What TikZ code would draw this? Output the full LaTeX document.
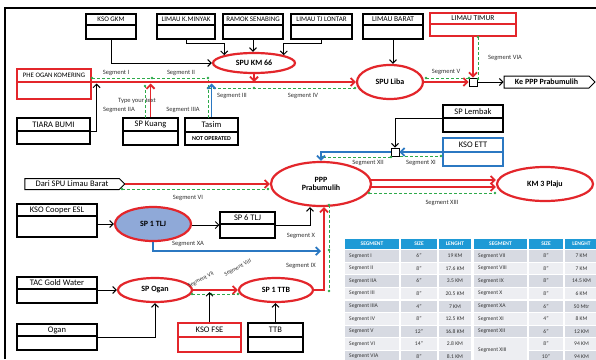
\documentclass[tikz,border=0pt]{standalone}
\usepackage{fontspec}
\setmainfont{Carlito}
\usetikzlibrary{arrows.meta,shapes.geometric,shapes.symbols,calc}
\definecolor{cred}{HTML}{E3262B}
\definecolor{cgreen}{HTML}{2EAA4A}
\definecolor{cblue}{HTML}{2B78C2}
\definecolor{cfill}{HTML}{8FA9D8}
\definecolor{thead}{HTML}{1E9AD6}
\definecolor{trowa}{HTML}{D7DAE2}
\definecolor{trowb}{HTML}{EDEEF2}
\newcommand{\fsz}[1]{\fontsize{#1}{#1}\selectfont}
% entity box: [style]{name}{x1}{y1}{x2}{y2}{ydiv}{header}{body}
\newcommand{\EB}[9][]{%
  \node[ebox,#1,minimum width={(#5)-(#3)},minimum height={(#6)-(#4)}] (#2) at ({((#3)+(#5))/2},{((#4)+(#6))/2}) {};
  \draw[ebox,#1] ({#3},{#7}) -- ({#5},{#7});
  \node[blbl] at ({((#3)+(#5))/2},{((#4)+(#7))/2}) {#8};
  \node[blbl] at ({((#3)+(#5))/2},{((#7)+(#6))/2}) {#9};
}
\begin{document}
\begin{tikzpicture}[x=1pt,y=-1pt,
  ebox/.style={draw=black,line width=1.1pt,rectangle,inner sep=0pt},
  rbox/.style={draw=cred},
  bbox/.style={draw=cblue},
  blbl/.style={font=\fsz{8.5},inner sep=0pt},
  ell/.style={ellipse,draw=cred,line width=2.2pt,inner sep=0pt,align=center,font=\bfseries\fsz{8}},
  sig/.style={signal,signal to=east,draw=black,line width=1pt,inner sep=0pt,font=\fsz{8.5}},
  jsq/.style={rectangle,draw=black,line width=0.8pt,fill=white,minimum size=8pt,inner sep=0pt},
  karr/.style={draw=black,line width=1pt,-{Straight Barb[length=3.5pt,width=7pt]}},
  rline/.style={draw=cred,line width=1.8pt},
  rarr/.style={rline,-{Straight Barb[length=4pt,width=8pt]}},
  barr/.style={draw=cblue,line width=1.8pt,-{Straight Barb[length=4pt,width=8pt]}},
  gdash/.style={draw=cgreen,line width=0.9pt,dash pattern=on 3pt off 2pt},
  gdot/.style={circle,fill=cgreen,inner sep=0pt,minimum size=2.8pt},
  seg/.style={font=\fsz{6.5},inner sep=0pt,text=black!80},
  thd/.style={font=\bfseries\fsz{5.5},text=white,inner sep=0pt},
  tcl/.style={font=\fsz{5.6},text=black!80,inner sep=0pt}]
\useasboundingbox (0,0) rectangle (596,359);
\fill[white] (0,0) rectangle (596,359);
\draw[line width=2pt] (5,359) -- (5,8) -- (596,8);

% ---------- boxes ----------
\EB{gkm}{86}{14}{136}{39}{25}{\fsz{7}KSO GKM}{}
\EB{kmy}{157}{14}{215}{39}{25}{\fsz{7}LIMAU K.MINYAK}{}
\EB{ramok}{223}{14}{283}{39}{25}{\fsz{7}RAMOK SENABING}{}
\EB{lontar}{291}{14}{352}{39}{25}{\fsz{7}LIMAU TJ LONTAR}{}
\EB{lbarat}{363}{14}{423}{39}{25}{\fsz{7.5}LIMAU BARAT}{}
\EB[rbox]{ltimur}{430}{13}{516}{36}{24}{\fsz{7.5}LIMAU TIMUR}{}
\EB[rbox]{phe}{17}{69}{91}{99}{82}{\fsz{6.8}PHE OGAN KOMERING}{}
\EB{tiara}{17}{118}{90}{144}{131}{TIARA BUMI}{}
\EB{kuang}{123}{118}{178}{145}{131}{SP Kuang}{}
\EB{tasim}{185}{118}{238}{145}{132}{Tasim}{\bfseries\fsz{6}NOT OPERATED}
\EB{lembak}{443}{105}{503}{132}{118}{SP Lembak}{}
\EB[bbox]{ett}{443}{138}{503}{166}{152}{KSO ETT}{}
\EB{cooper}{17}{204}{97}{237}{216}{KSO Cooper ESL}{}
\EB{sixtlj}{220}{212}{275}{238}{224}{SP 6 TLJ}{}
\EB{tac}{17}{277}{97}{303}{289}{TAC Gold Water}{}
\EB{ogan}{17}{324}{97}{350}{336}{Ogan}{}
\EB[rbox]{fse}{178}{323}{241}{352}{337}{KSO FSE}{}
\EB{ttb}{248}{323}{303}{352}{337}{TTB}{}

% ---------- ellipses ----------
\node[ell,minimum width=82,minimum height=20] (km66) at (254,63) {SPU KM 66};
\node[ell,minimum width=66,minimum height=34] (liba) at (390,82) {SPU Liba};
\node[ell,minimum width=100,minimum height=44] (ppp) at (321,184) {PPP\\Prabumulih};
\node[ell,minimum width=96,minimum height=34] (km3) at (545,184) {KM 3 Plaju};
\node[ell,fill=cfill,minimum width=76,minimum height=34] (onetlj) at (153,224) {SP 1 TLJ};
\node[ell,minimum width=74,minimum height=24] (spogan) at (155,290) {SP Ogan};
\node[ell,minimum width=74,minimum height=24] (onettb) at (276,290) {SP 1 TTB};

\node[jsq] (j1) at (473,82) {};
\node[jsq] (j2) at (395,152) {};
\node[sig,minimum width=91,minimum height=12] (ke) at (546.5,82) {\bfseries\fsz{8}Ke PPP Prabumulih};
\node[sig,minimum width=100,minimum height=11] (dari) at (72,184) {Dari SPU Limau Barat};

% ---------- green dashed segments ----------
\draw[gdash] (92,78) -- (208,78);
\draw[gdash] (145,118) -- (145,86);
\draw[gdash] (208,118) -- (208,78);
\draw[gdash] (208,88) -- (355,88);
\draw[gdash] (426,78) -- (469,78);
\draw[gdash] (478,37) -- (478,79);
\draw[gdash] (122,189) -- (268,189);
\draw[gdash] (323,157) -- (391,157);
\draw[gdash] (400,156) -- (441,156);
\draw[gdash] (369,193) -- (495,193);
\draw[gdash] (329,205) -- (329,291);
\draw[gdash] (192,294) -- (238,294);
\foreach \p in {(92,78),(152,78),(208,78),(145,86),(208,88),(254,88),(355,88),(426,78),(469,78),(478,37),(478,79),
  (122,189),(268,189),(323,157),(391,157),(441,156),(369,193),(495,193),(329,205),(329,250),(329,291),(192,294),(211,294),(238,294)}
  \node[gdot] at \p {};

% ---------- connectors ----------
\draw[karr] (gkm.south) |- (km66.west);
\draw[karr] (kmy.south) -- ++(0,4) -| (km66.north west);
\draw[karr] (ramok.south) -- (ramok.south |- km66.north);
\draw[karr] (lontar.south) -- ++(0,4) -| (km66.north east);
\draw[karr] (lbarat.south) -- (lbarat.south |- liba.north);
\draw[rarr] (ltimur.south) -- (j1.north);
\draw[rarr] (phe.east |- liba.west) -- (liba.west);
\draw[rarr] (km66.south) -- (km66.south |- liba.west);
\draw[rarr] (kuang.north) -- ($(kuang.north |- liba.west)+(0,1.5)$);
\draw[barr] (tasim.north) -- ($(tasim.north |- liba.west)+(0,1.5)$);
\draw[karr] (tiara.east) -| ($(phe.east |- liba.west)+(5,1.5)$);
\draw[rarr] (liba.east) -- (j1.west);
\draw[karr] (j1.east) -- (ke.west);

\draw[rarr] (dari.east) -- (ppp.west);
\draw[karr] (lembak.west) -| (j2.north);
\draw[barr] (ett.west) -- (j2.east);
\draw[barr] (j2.west) -| (ppp.north);
\draw[rarr] ($(ppp.east)+(-1,-4)$) -- ($(km3.west)+(0,-4)$);
\draw[rarr] ($(ppp.east)+(-1,3)$) -- ($(km3.west)+(0,3)$);

\draw[karr] (cooper.east |- onetlj.west) -- (onetlj.west);
\draw[karr] (onetlj.east |- sixtlj.west) -- (sixtlj.west);
\draw[karr] (sixtlj.east) -| ($(ppp.south)+(-11,0)$);
\draw[barr] (onetlj.south) |- ($(ppp.south)+(0,44)$);
\draw[rarr] (onettb.east) -| ($(ppp.south)+(3,0)$);
\draw[karr] (tac.east) -- (spogan.west);
\draw[karr] (ogan.east) -| (spogan.south);
\draw[rarr] (spogan.east) -- (onettb.west);
\draw[karr] (fse.north) -- ($(fse.north |- spogan.east)+(0,2)$);
\draw[karr] (ttb.north) -- (ttb.north |- onettb.south);

% ---------- segment labels ----------
\node[seg] at (116,73) {Segment I};
\node[seg] at (181,73) {Segment II};
\node[seg] at (137,101) {Type your text};
\node[seg] at (119,110) {Segment IIA};
\node[seg] at (183,110) {Segment IIIA};
\node[seg] at (232,96) {Segment III};
\node[seg] at (303,96) {Segment IV};
\node[seg] at (446,72) {Segment V};
\node[seg] at (505,58) {Segment VIA};
\node[seg] at (188,198) {Segment VI};
\node[seg] at (368,163) {Segment XII};
\node[seg] at (421,163) {Segment XI};
\node[seg] at (442,203) {Segment XIII};
\node[seg] at (188,244) {Segment XA};
\node[seg] at (301,236) {Segment X};
\node[seg] at (301,266) {Segment IX};
\node[seg,font=\fsz{5.8},rotate=28] at (201,280) {Segment VII};
\node[seg,font=\fsz{5.8},rotate=28] at (238,268) {Segment VIII};

% ---------- table ----------
\foreach \xa/\xb in {345/399,401/437,439/471,474/527,529/563,565/598}{
  \fill[thead] (\xa,238.5) rectangle (\xb,249);
  \foreach \r in {1,...,9}{
    \ifodd\r \def\rc{trowa}\else\def\rc{trowb}\fi
    \fill[\rc] (\xa,{249.5+12.6*(\r-1)+0.6}) rectangle (\xb,{249.5+12.6*\r-0.6});
  }
}
\fill[trowb] (474,{249.5+12.6*7+0.6}) rectangle (527,365);
\foreach \x/\t in {372/SEGMENT,419/SIZE,455/LENGHT,500.5/SEGMENT,546/SIZE,581.5/LENGHT}
  \node[thd] (h\x) at (\x,244) {\t};
\foreach \r/\a/\b/\c in {1/Segment I/6"/19 KM,2/Segment II/8"/17.6 KM,3/Segment IIA/6"/3.5 KM,
  4/Segment III/8"/20.5 KM,5/Segment IIIA/4"/7 KM,6/Segment IV/8"/12.5 KM,7/Segment V/12"/16.8 KM,
  8/Segment VI/14"/2.8 KM,9/Segment VIA/8"/8.1 KM}{
  \node[tcl,anchor=west] at (349,{249.5+12.6*(\r-0.5)}) {\a};
  \node[tcl] at (419,{249.5+12.6*(\r-0.5)}) {\b};
  \node[tcl] at (455,{249.5+12.6*(\r-0.5)}) {\c};
}
\foreach \r/\a/\b/\c in {1/Segment VII/8"/7 KM,2/Segment VIII/8"/7 KM,3/Segment IX/8"/14.5 KM,
  4/Segment X/8"/6 KM,5/Segment XA/6"/50 Mtr,6/Segment XI/4"/8 KM,7/Segment XII/6"/12 KM}{
  \node[tcl,anchor=west] at (478,{249.5+12.6*(\r-0.5)}) {\a};
  \node[tcl] at (546,{249.5+12.6*(\r-0.5)}) {\b};
  \node[tcl] at (581.5,{249.5+12.6*(\r-0.5)}) {\c};
}
\node[tcl,anchor=west] at (478,{249.5+12.6*8}) {Segment XIII};
\node[tcl] at (546,{249.5+12.6*7.5}) {8"};
\node[tcl] at (581.5,{249.5+12.6*7.5}) {94 KM};
\node[tcl] at (546,{249.5+12.6*8.5}) {10"};
\node[tcl] at (581.5,{249.5+12.6*8.5}) {94 KM};
\end{tikzpicture}
\end{document}
